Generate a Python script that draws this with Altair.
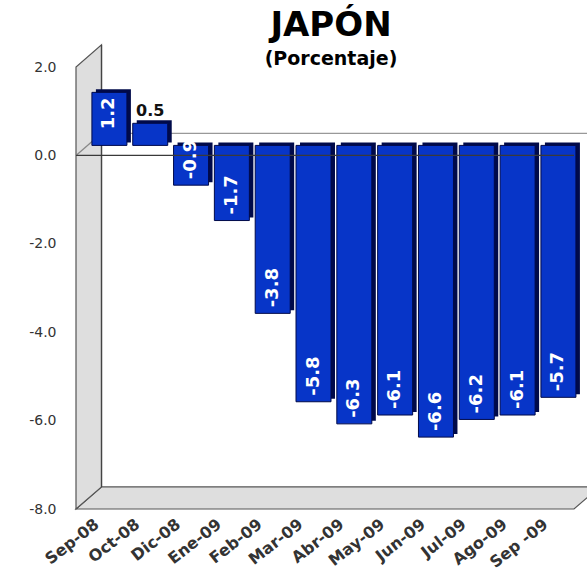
import json
import altair as alt
import pandas as pd

# Japan, year-on-year change (percent)
months = ["Sep-08", "Oct-08", "Dic-08", "Ene-09", "Feb-09", "Mar-09",
          "Abr-09", "May-09", "Jun-09", "Jul-09", "Ago-09", "Sep -09"]
values = [1.2, 0.5, -0.9, -1.7, -3.8, -5.8, -6.3, -6.1, -6.6, -6.2, -6.1, -5.7]
y_ticks = [-8.0, -6.0, -4.0, -2.0, 0.0, 2.0]

# plot box (front plane) and the depth of the 3-D frame, in data units
X_MIN, X_MAX = -0.5, 11.7
Y_MIN, Y_MAX = -8.0, 2.0
DEPTH_X, DEPTH_Y = 0.625, 0.5

W, H = 508, 442
FONT = "DejaVu Sans"
BLUE = "#0735c8"
NAVY = "#000a4a"
WALL = "#dedede"
EDGE = "#555555"

bars = pd.DataFrame({
    "i": list(range(len(months))),
    "mes": months,
    "v": values,
    "label": [f"{v:.1f}" for v in values],
})

xs = alt.Scale(domain=[X_MIN, X_MAX], nice=False, zero=False)
ys = alt.Scale(domain=[Y_MIN, Y_MAX], nice=False, zero=False)

label_expr = json.dumps(months) + "[datum.value]"
x_axis = alt.Axis(values=list(range(len(months))), labelExpr=label_expr,
                  labelAngle=-38, labelAlign="right", labelBaseline="middle",
                  labelPadding=13, labelFont=FONT, labelFontWeight="bold",
                  labelFontSize=16, labelColor="#333333", labelOverlap=False,
                  labelFlush=False, domain=False, ticks=False, grid=False,
                  title=None)
y_axis = alt.Axis(values=y_ticks,
                  labelExpr="(datum.value < 0 ? '-' : '') + format(abs(datum.value), '.1f')",
                  labelPadding=15, labelFont=FONT, labelFontSize=14,
                  labelColor="#333333", domain=False, ticks=False, grid=False,
                  title=None)

# floor and left wall of the frame
floor = pd.DataFrame({
    "x": [X_MIN, X_MIN + DEPTH_X, X_MAX, X_MAX + DEPTH_X],
    "y": [Y_MIN, Y_MIN, Y_MIN, Y_MIN + DEPTH_Y],
    "y2": [Y_MIN, Y_MIN + DEPTH_Y, Y_MIN + DEPTH_Y, Y_MIN + DEPTH_Y],
})
wall = pd.DataFrame({
    "x": [X_MIN, X_MIN + DEPTH_X],
    "y": [Y_MIN, Y_MIN + DEPTH_Y],
    "y2": [Y_MAX, Y_MAX + DEPTH_Y],
})


def panel(df, mark):
    return alt.Chart(df).mark_area(**mark).encode(
        x=alt.X("x:Q", scale=xs, axis=x_axis),
        y=alt.Y("y:Q", scale=ys, axis=y_axis),
        y2="y2:Q",
    )


floor_layer = panel(floor, dict(fill=WALL, stroke=EDGE, strokeWidth=1.2))
wall_layer = panel(wall, dict(fill=WALL, stroke=EDGE, strokeWidth=1.2))

lines = pd.DataFrame({
    "x": [X_MIN + DEPTH_X, X_MIN + DEPTH_X, X_MIN],
    "x2": [X_MIN + DEPTH_X, X_MAX + DEPTH_X, X_MIN + DEPTH_X],
    "y": [Y_MIN + DEPTH_Y, DEPTH_Y, 0.0],
    "y2": [Y_MAX + DEPTH_Y, DEPTH_Y, DEPTH_Y],
    "c": ["#444444", "#999999", "#888888"],
})
frame_lines = alt.Chart(lines).mark_rule(strokeWidth=1.3).encode(
    x=alt.X("x:Q", scale=xs), x2="x2:Q",
    y=alt.Y("y:Q", scale=ys), y2="y2:Q",
    color=alt.Color("c:N", scale=None),
)

front_zero = pd.DataFrame({"x": [X_MIN], "x2": [X_MAX], "y": [0.0]})
zero_line = alt.Chart(front_zero).mark_rule(color="#3a3a3a", strokeWidth=1.2).encode(
    x=alt.X("x:Q", scale=xs), x2="x2:Q", y=alt.Y("y:Q", scale=ys),
)

base = alt.Chart(bars).encode(x=alt.X("i:Q", scale=xs))

bar_side = base.mark_bar(size=35, color=NAVY, xOffset=17, yOffset=-13,
                         y2Offset=-13).encode(
    y=alt.Y("v:Q", scale=ys), y2=alt.datum(0))
bar_front = base.mark_bar(size=35, color=BLUE, stroke=NAVY, strokeWidth=1,
                          xOffset=13, yOffset=-10, y2Offset=-10).encode(
    y=alt.Y("v:Q", scale=ys), y2=alt.datum(0))

inside = dict(angle=270, baseline="middle", font=FONT, fontWeight="bold",
              fontSize=18, color="white", xOffset=13)
lab_neg = base.transform_filter("datum.v <= -0.8").mark_text(
    align="left", yOffset=-16, **inside).encode(
    y=alt.Y("v:Q", scale=ys), text="label:N")
lab_pos = base.transform_filter("datum.v >= 0.8").mark_text(
    align="right", yOffset=-5, **inside).encode(
    y=alt.Y("v:Q", scale=ys), text="label:N")
lab_small = base.transform_filter("datum.v > 0 && datum.v < 0.8").mark_text(
    align="center", baseline="alphabetic", font=FONT, fontWeight="bold",
    fontSize=16, color="#111111", xOffset=13, yOffset=-17).encode(
    y=alt.Y("v:Q", scale=ys), text="label:N")

chart = alt.layer(
    floor_layer, wall_layer, frame_lines,
    bar_side, bar_front, zero_line,
    lab_neg, lab_pos, lab_small,
).properties(
    width=W, height=H,
    title=alt.TitleParams(
        text="JAPÓN", subtitle="(Porcentaje)",
        font=FONT, fontSize=34, fontWeight="bold", color="black",
        subtitleFont=FONT, subtitleFontSize=19, subtitleFontWeight="bold",
        subtitleColor="black", subtitlePadding=7,
        anchor="middle", frame="group", offset=2, dx=6, dy=28,
    ),
    autosize=alt.AutoSizeParams(type="none"),
    padding={"left": 71, "top": 67, "right": 8, "bottom": 65},
    background="white",
).configure_view(stroke=None)

chart.save("out.html", embed_options={"renderer": "svg", "actions": False})
